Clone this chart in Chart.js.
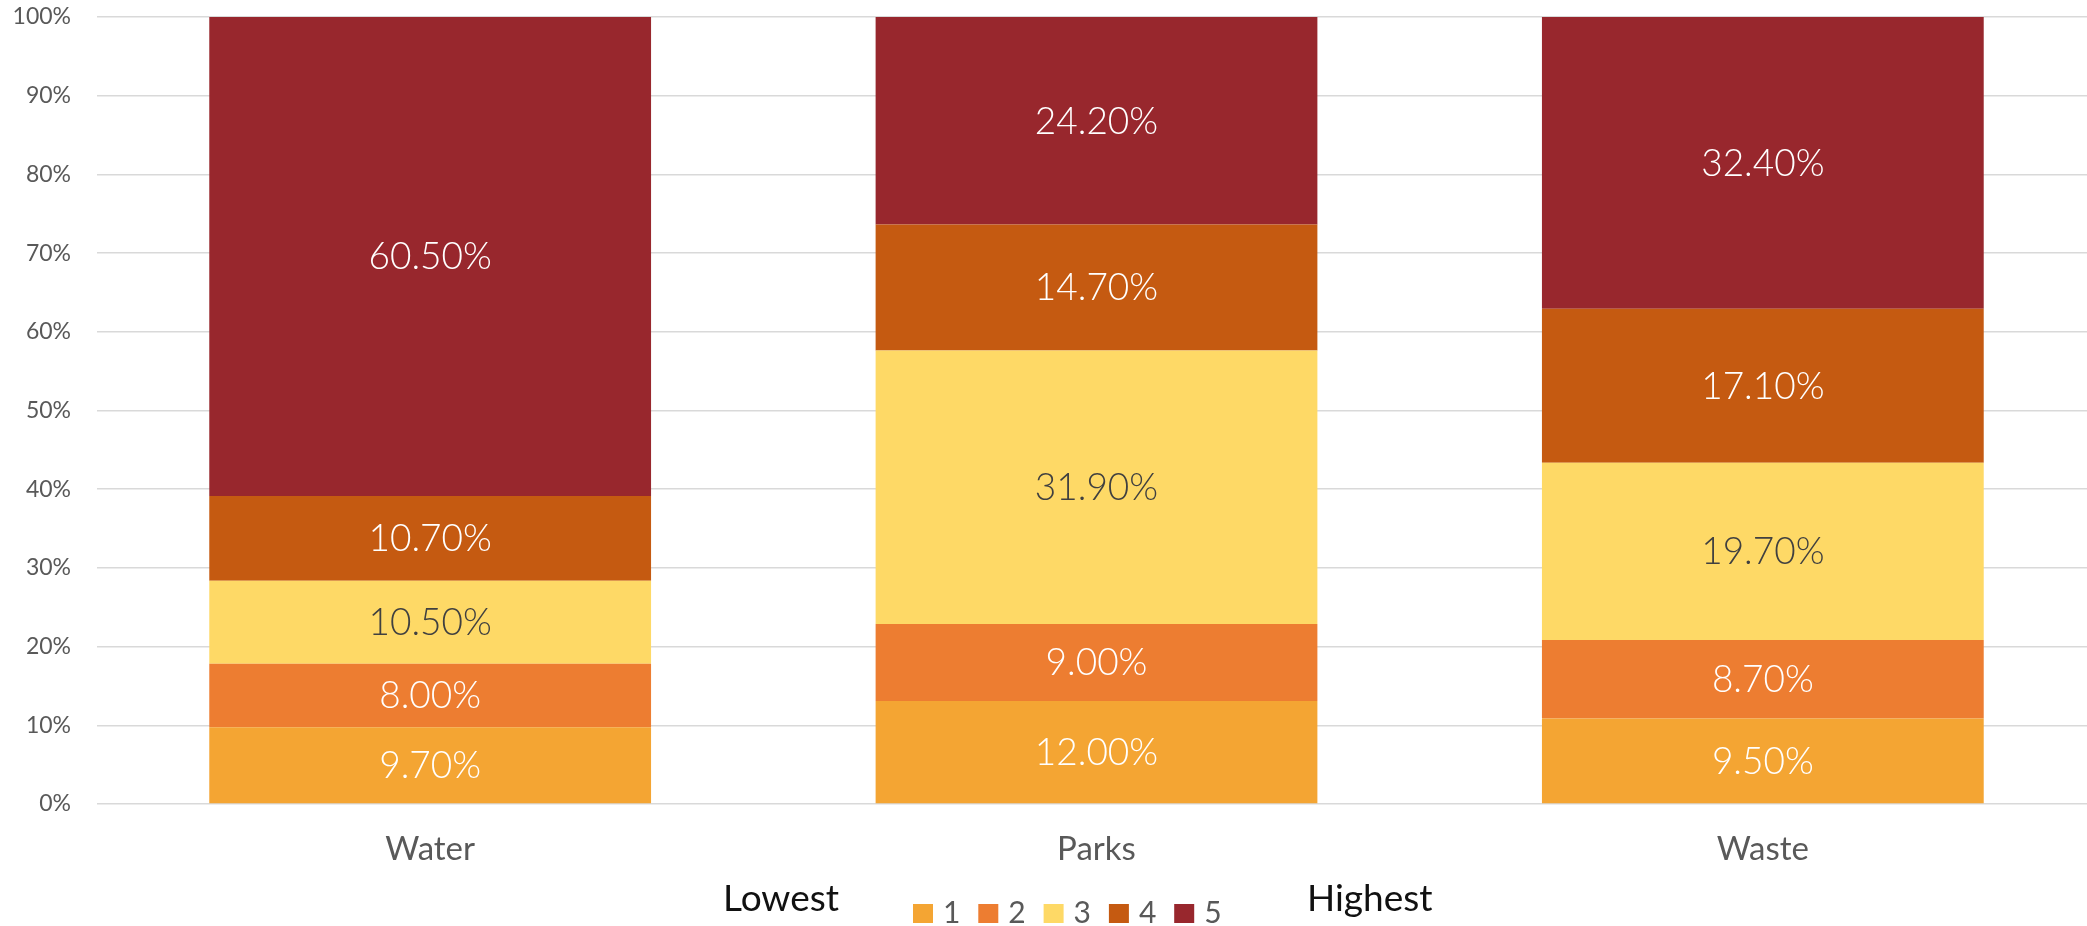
<!DOCTYPE html>
<html><head><meta charset="utf-8">
<script src="https://cdn.jsdelivr.net/npm/chart.js@4/dist/chart.umd.min.js"></script>
<style>html,body{margin:0;padding:0;background:#fff;overflow:hidden}#wrap{width:2096px;height:926px;position:relative}</style>
</head><body><div id="wrap"><canvas id="c"></canvas></div>
<script>
// ---- data ----
const categories = ['Water', 'Parks', 'Waste'];
const ratingLabels = ['1', '2', '3', '4', '5'];
const rating1 = [9.7, 12.0, 9.5];
const rating2 = [8.0, 9.0, 8.7];
const rating3 = [10.5, 31.9, 19.7];
const rating4 = [10.7, 14.7, 17.1];
const rating5 = [60.5, 24.2, 32.4];
const yTickValues = [0, 10, 20, 30, 40, 50, 60, 70, 80, 90, 100];
const legendLow = 'Lowest';
const legendHigh = 'Highest';

// ---- styles ----
const seriesColors = ['#F4A533', '#ED7D31', '#FED966', '#C55A11', '#98272D'];
const labelColors = ['#ffffff', '#ffffff', '#404040', '#ffffff', '#ffffff'];
const FONT = 'Lato, "Open Sans", sans-serif';

const raw = [rating1, rating2, rating3, rating4, rating5];
const totals = categories.map((_, i) => raw.reduce((s, arr) => s + arr[i], 0));
const datasets = raw.map((arr, k) => ({
  label: ratingLabels[k],
  data: arr.map((v, i) => v / totals[i] * 100),
  rawValues: arr,
  backgroundColor: seriesColors[k],
  borderWidth: 0,
  barPercentage: 0.663,
  categoryPercentage: 1.0
}));

const dataLabelPlugin = {
  id: 'dataLabels',
  afterDatasetsDraw(chart) {
    const ctx = chart.ctx;
    ctx.save();
    ctx.font = '300 37px ' + FONT;
    ctx.textAlign = 'center';
    ctx.textBaseline = 'middle';
    chart.data.datasets.forEach((ds, k) => {
      const meta = chart.getDatasetMeta(k);
      meta.data.forEach((bar, i) => {
        const p = bar.getCenterPoint();
        ctx.fillStyle = labelColors[k];
        ctx.fillText(ds.rawValues[i].toFixed(2) + '%', p.x, p.y + 1);
      });
    });
    ctx.restore();
  }
};

const legendPlugin = {
  id: 'customLegend',
  afterDraw(chart) {
    const ctx = chart.ctx;
    ctx.save();
    const pitch = 65.3;
    const boxW = 20, boxH = 19;
    const startX = chart.width / 2 - 135;
    const boxTop = chart.height - 22;
    const numBase = chart.height - 3;
    const wordBase = chart.height - 15;
    ctx.font = '30px ' + FONT;
    ctx.textBaseline = 'alphabetic';
    ctx.textAlign = 'left';
    chart.data.datasets.forEach((ds, k) => {
      const x = startX + k * pitch;
      ctx.fillStyle = ds.backgroundColor;
      ctx.fillRect(x, boxTop, boxW, boxH);
      ctx.fillStyle = '#595959';
      ctx.fillText(ds.label, x + boxW + 10, numBase);
    });
    ctx.font = '37px ' + FONT;
    ctx.fillStyle = '#111111';
    ctx.textAlign = 'right';
    ctx.fillText(legendLow, startX - 74, wordBase);
    ctx.textAlign = 'left';
    ctx.fillText(legendHigh, startX + 394, wordBase);
    ctx.restore();
  }
};

new Chart(document.getElementById('c'), {
  type: 'bar',
  data: { labels: categories, datasets: datasets },
  options: {
    responsive: true,
    maintainAspectRatio: false,
    animation: false,
    layout: { padding: { top: 17, left: 13, right: 0, bottom: 56 } },
    plugins: {
      legend: { display: false },
      tooltip: { enabled: false }
    },
    scales: {
      x: {
        stacked: true,
        grid: { display: false, drawTicks: false },
        border: { display: false },
        ticks: { color: '#595959', font: { family: FONT, size: 33 }, padding: 26 },
        afterFit(scale) { scale.height = 66; }
      },
      y: {
        stacked: true,
        min: 0,
        max: 100,
        afterBuildTicks(scale) { scale.ticks = yTickValues.map(v => ({ value: v })); },
        grid: { color: '#d9d9d9', lineWidth: 1.5, drawTicks: false },
        border: { display: false },
        ticks: {
          color: '#595959',
          font: { family: FONT, size: 23 },
          padding: 26,
          callback: v => v + '%'
        },
        afterFit(scale) { scale.width = 84; scale.paddingTop = 0; scale.paddingBottom = 0; }
      }
    }
  },
  plugins: [dataLabelPlugin, legendPlugin]
});
</script>
</body></html>
